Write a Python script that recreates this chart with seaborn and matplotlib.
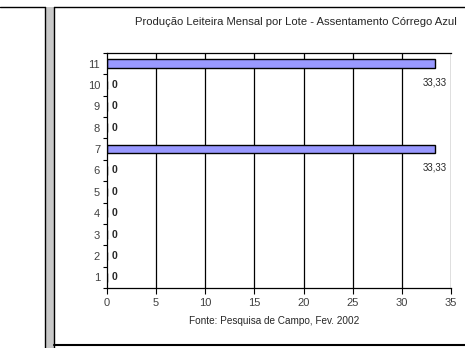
import matplotlib.pyplot as plt
import seaborn as sns
from matplotlib.lines import Line2D
from matplotlib.patches import Rectangle

# data
lotes = ['1', '2', '3', '4', '5', '6', '7', '8', '9', '10', '11']
producao = [0, 0, 0, 0, 0, 0, 33.33, 0, 0, 0, 33.33]
rotulos = ['0', '0', '0', '0', '0', '0', '33,33', '0', '0', '0', '33,33']
x_ticks = [0, 5, 10, 15, 20, 25, 30, 35]

titulo = 'Produção Leiteira Mensal por Lote - Assentamento Córrego Azul'
fonte = 'Fonte: Pesquisa de Campo, Fev. 2002'

sns.set_style('white')
plt.rcParams['font.family'] = ['Liberation Sans', 'DejaVu Sans']

W, H = 465, 348
fig = plt.figure(figsize=(W / 100, H / 100), dpi=100)
ax = fig.add_axes([107 / W, 1 - 288 / H, (451 - 107) / W, (288 - 53) / H])

# 11 on top, 1 at the bottom
ordem = lotes[::-1]
sns.barplot(x=producao, y=lotes, order=ordem, orient='h', color='#9999FF',
            saturation=1, edgecolor='black', linewidth=1, width=0.4, ax=ax)

ax.set_xlim(0, 35)
ax.set_ylim(len(lotes) - 0.5, -0.5)
ax.set_xticks(x_ticks)
ax.set_xticklabels([str(t) for t in x_ticks])
ax.set_xlabel('')
ax.set_ylabel('')

# vertical grid lines in black
for t in x_ticks[1:]:
    ax.axvline(t, color='black', lw=0.9, zorder=0)

# category boundary ticks on the y axis
ax.set_yticks([i - 0.5 for i in range(len(lotes) + 1)], minor=True)
ax.tick_params(axis='y', which='major', length=0, pad=5, labelsize=8, labelcolor='#404040')
ax.tick_params(axis='y', which='minor', length=3, width=0.8, color='black', direction='out', left=True)
ax.tick_params(axis='x', length=4, width=0.8, color='black', direction='out', bottom=True,
               labelsize=8, labelcolor='#404040', pad=3)

for s in ax.spines.values():
    s.set_color('black')
    s.set_linewidth(0.9)
ax.spines['right'].set_visible(False)

# data labels
for lote, valor, rot in zip(lotes, producao, rotulos):
    pos = ordem.index(lote)
    if valor == 0:
        ax.text(0.45, pos, rot, ha='left', va='center', fontsize=7.5, fontweight='bold')
    else:
        ax.text(valor, pos + 0.87, rot, ha='center', va='center', fontsize=7)

fig.text(457 / W, 1 - 22 / H, titulo, ha='right', va='center', fontsize=8.1)
fig.text(274 / W, 1 - 321 / H, fonte, ha='center', va='center', fontsize=7.2)

# surrounding frame like the original page
fig.add_artist(Rectangle((45 / W, 0), 9 / W, 1 - 7 / H, transform=fig.transFigure,
                         facecolor='#C8C8C8', edgecolor='none'))
for x in (45, 54):
    fig.add_artist(Line2D([x / W, x / W], [0, 1 - 7 / H], transform=fig.transFigure,
                          color='black', lw=1))
fig.add_artist(Line2D([0, 45 / W], [1 - 6.5 / H, 1 - 6.5 / H], transform=fig.transFigure,
                      color='black', lw=1))
fig.add_artist(Line2D([54 / W, 1], [1 - 7 / H, 1 - 7 / H], transform=fig.transFigure,
                      color='black', lw=1))
fig.add_artist(Line2D([54 / W, 1], [1 - 345 / H, 1 - 345 / H], transform=fig.transFigure,
                      color='black', lw=1.5))

fig.savefig('out.png', dpi=100)
